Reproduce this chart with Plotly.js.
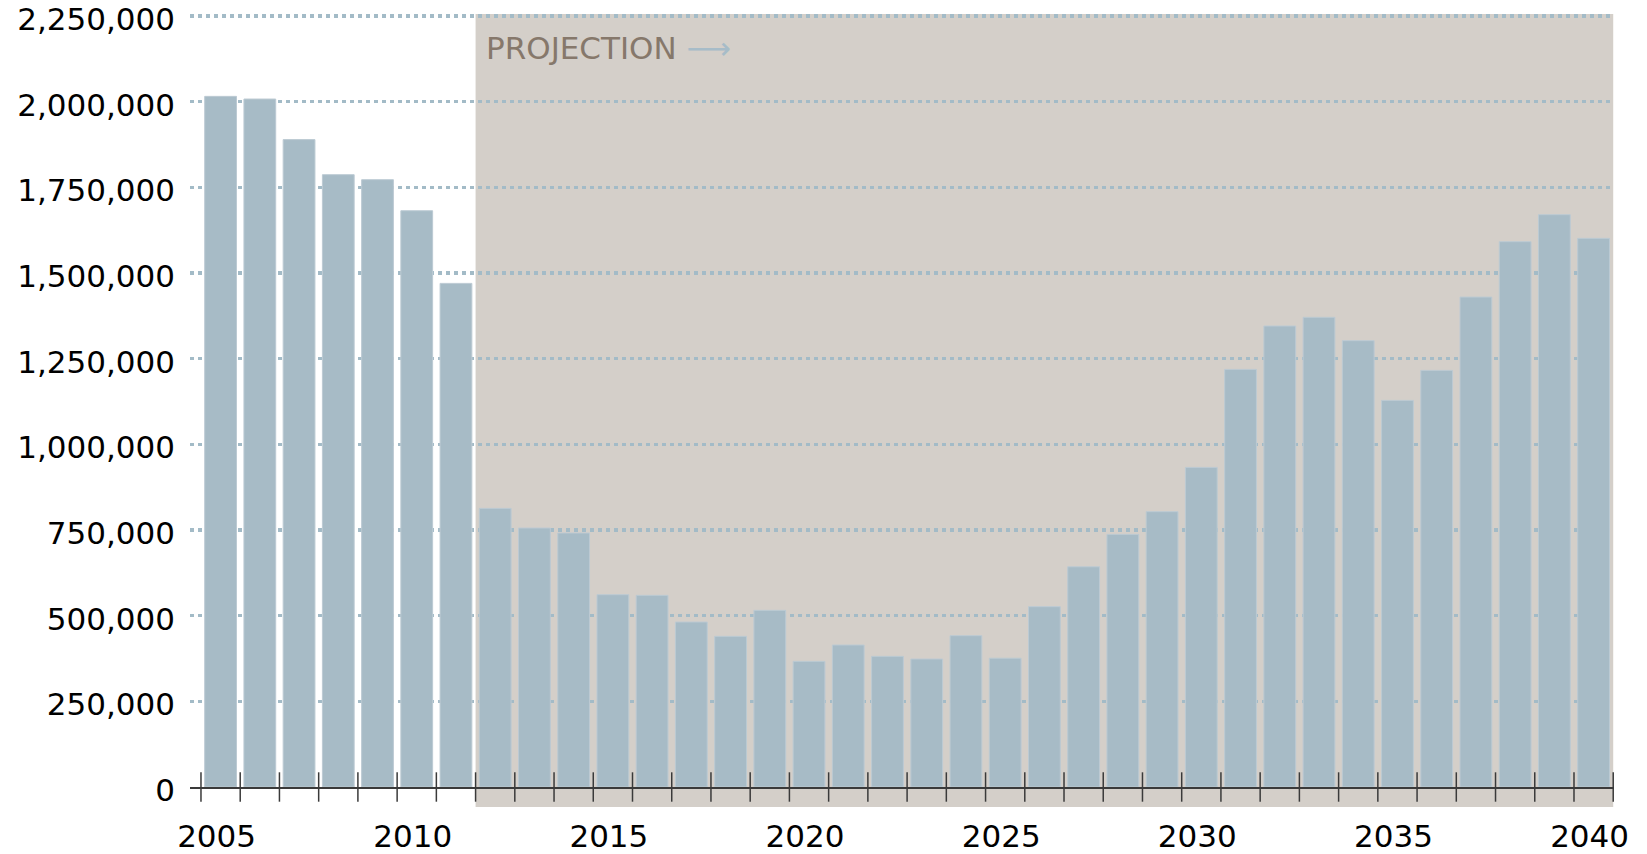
<!DOCTYPE html>
<html>
<head>
<meta charset="utf-8">
<script src="https://cdn.plot.ly/plotly-3.0.1.min.js"></script>
<style>html,body{margin:0;padding:0;background:#fff;}#chart{width:1647px;height:854px;}</style>
</head>
<body>
<div id="chart"></div>
<script>
// ---- data ----
const years = [2005, 2006, 2007, 2008, 2009, 2010, 2011, 2012, 2013, 2014, 2015, 2016,
               2017, 2018, 2019, 2020, 2021, 2022, 2023, 2024, 2025, 2026, 2027, 2028,
               2029, 2030, 2031, 2032, 2033, 2034, 2035, 2036, 2037, 2038, 2039, 2040];
const values = [2015600, 2007800, 1889400, 1787000, 1772400, 1681800, 1469800, 813200,
                755800, 741200, 561300, 559400, 481500, 439700, 515600, 366700,
                414400, 381300, 373500, 441600, 375900, 526300, 642800, 737300,
                803600, 932700, 1218800, 1345400, 1370800, 1302600, 1128300, 1215900,
                1429900, 1591500, 1670400, 1601300];
const xLabelYears = [2005, 2010, 2015, 2020, 2025, 2030, 2035, 2040];
const yTickValues = [0, 250000, 500000, 750000, 1000000, 1250000, 1500000, 1750000, 2000000, 2250000];
const projectionStartYear = 2012;
const projectionLabel = 'PROJECTION';

// ---- derived ----
const boundaries = years.map(y => y - 0.5).concat([years[years.length - 1] + 0.5]);
const xRange = [years[0] - 0.78, years[years.length - 1] + 0.52];
const yRange = [0, 2256000];

const FONT = 'DejaVu Sans, sans-serif';

const bars = {
  type: 'bar',
  x: years,
  y: values,
  marker: { color: '#a7bbc6', line: { color: '#bccad3', width: 1 } },
  hoverinfo: 'x+y'
};

// tick marks crossing the zero axis at every category boundary
const boundaryTicks = {
  type: 'scatter',
  mode: 'markers',
  x: boundaries,
  y: boundaries.map(() => 0),
  marker: { symbol: 'line-ns-open', size: 21, color: '#3a3a3a', line: { color: '#3a3a3a', width: 1.5 } },
  cliponaxis: false,
  hoverinfo: 'skip'
};

const layout = {
  width: 1647,
  height: 854,
  margin: { l: 190, r: 33, t: 14, b: 67, pad: 0 },
  paper_bgcolor: '#ffffff',
  plot_bgcolor: 'rgba(0,0,0,0)',
  showlegend: false,
  bargap: 0.19,
  font: { family: FONT, size: 31, color: '#000000' },
  xaxis: {
    range: xRange,
    tickmode: 'array',
    tickvals: xLabelYears,
    ticktext: xLabelYears.map(String),
    ticks: '',
    ticklabelstandoff: 21,
    ticklabelshift: -4,
    ticklabeloverflow: 'allow',
    showgrid: false,
    zeroline: false,
    showline: true,
    linecolor: '#3a3a3a',
    linewidth: 1.5,
    tickfont: { family: FONT, size: 31, color: '#000000' },
    fixedrange: true
  },
  yaxis: {
    range: yRange,
    tickmode: 'array',
    tickvals: yTickValues,
    tickformat: ',d',
    ticks: '',
    ticklabelstandoff: 14,
    ticklabelshift: 3,
    ticklabeloverflow: 'allow',
    showline: false,
    zeroline: false,
    showgrid: true,
    gridcolor: '#a3bbc7',
    gridwidth: 3.5,
    griddash: '3.5px,4.5px',
    tickfont: { family: FONT, size: 31, color: '#000000' },
    fixedrange: true
  },
  shapes: [{
    type: 'rect',
    layer: 'below',
    xref: 'x',
    yref: 'paper',
    x0: projectionStartYear - 0.5,
    x1: years[years.length - 1] + 0.5,
    y0: -0.026,
    y1: 1,
    fillcolor: '#d4cfc9',
    line: { width: 0 }
  }],
  annotations: [{
    xref: 'x',
    yref: 'paper',
    x: projectionStartYear - 0.5,
    y: 1,
    xanchor: 'left',
    yanchor: 'middle',
    xshift: 8,
    yshift: -34,
    showarrow: false,
    text: projectionLabel + ' <span style="color:#a7bcc8">⟶</span>',
    font: { family: FONT, size: 31, color: '#86786b' }
  }]
};

Plotly.newPlot('chart', [bars, boundaryTicks], layout, { displayModeBar: false, staticPlot: true });
</script>
</body>
</html>
